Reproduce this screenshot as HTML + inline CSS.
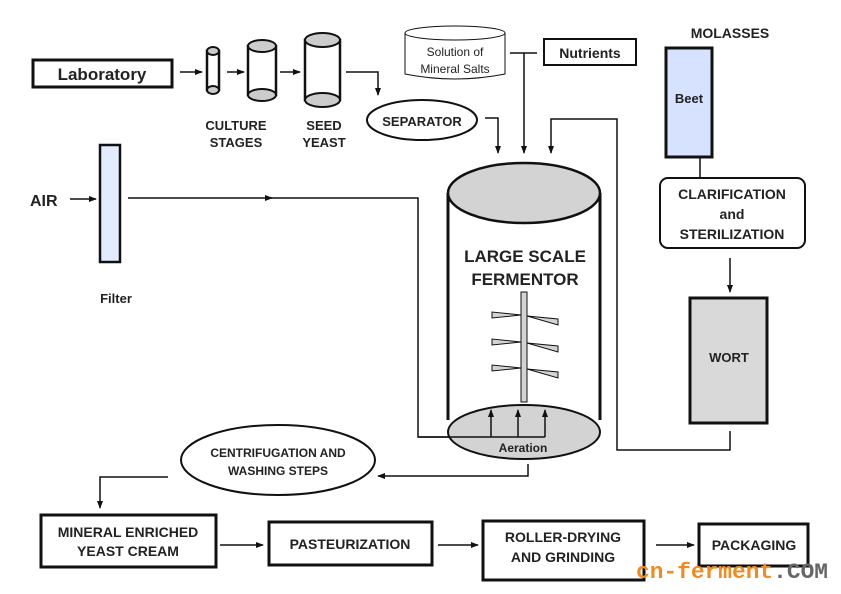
<!DOCTYPE html>
<html><head><meta charset="utf-8"><style>
html,body{margin:0;padding:0;background:#fff;}
svg{display:block;font-family:"Liberation Sans",Arial,sans-serif;}
text{font-weight:bold;fill:#222;}
</style></head><body>
<svg width="841" height="594" viewBox="0 0 841 594" xmlns="http://www.w3.org/2000/svg">
<defs>
<marker id="a" markerWidth="8" markerHeight="8" refX="7" refY="4" orient="auto" markerUnits="userSpaceOnUse"><path d="M0,1 L8,4 L0,7 z" fill="#111"/></marker>
</defs>
<g stroke="#111" fill="none" stroke-width="1.5">
<rect x="33" y="60" width="139" height="27" stroke-width="3"/>
<line x1="180" y1="72" x2="202" y2="72" marker-end="url(#a)"/>
<rect x="207" y="51" width="12" height="39" stroke-width="2.5" fill="#fff"/>
<ellipse cx="213" cy="51" rx="6" ry="4" fill="#ccc" stroke-width="2"/>
<ellipse cx="213" cy="90" rx="6" ry="4" fill="#ccc" stroke-width="2"/>
<line x1="227" y1="72" x2="244" y2="72" marker-end="url(#a)"/>
<rect x="248" y="46" width="28" height="49" stroke-width="2.5" fill="#fff"/>
<ellipse cx="262" cy="46" rx="14" ry="6" fill="#ccc" stroke-width="2"/>
<ellipse cx="262" cy="95" rx="14" ry="6" fill="#ccc" stroke-width="2"/>
<line x1="280" y1="72" x2="300" y2="72" marker-end="url(#a)"/>
<rect x="305" y="40" width="35" height="60" stroke-width="2.5" fill="#fff"/>
<ellipse cx="322.5" cy="40" rx="17.5" ry="7" fill="#ccc" stroke-width="2"/>
<ellipse cx="322.5" cy="100" rx="17.5" ry="7" fill="#ccc" stroke-width="2"/>
<polyline points="346,72 378,72 378,95" marker-end="url(#a)"/>
<ellipse cx="422" cy="120" rx="55" ry="20" stroke-width="2"/>
<path d="M405,33 L405,74 Q455,84 505,74 L505,33" stroke-width="1"/>
<ellipse cx="455" cy="33" rx="50" ry="7" stroke-width="1" fill="#fff"/>
<rect x="544" y="39" width="92" height="26" stroke-width="2"/>
<line x1="510" y1="53" x2="537" y2="53"/>
<line x1="524" y1="53" x2="524" y2="153" marker-end="url(#a)"/>
<polyline points="485,118 498,118 498,153" marker-end="url(#a)"/>
<polyline points="730,431 730,450 617,450 617,119 551,119 551,153" marker-end="url(#a)"/>
<line x1="70" y1="199" x2="96" y2="199" marker-end="url(#a)"/>
<rect x="100" y="145" width="20" height="117" fill="#e3ecff" stroke-width="2.5"/>
<line x1="128" y1="198" x2="272" y2="198" marker-end="url(#a)"/>
<polyline points="270,198 418,198 418,437 545,437"/>
<path d="M448,193 L448,420 M600,193 L600,420" stroke-width="3"/>
<ellipse cx="524" cy="193" rx="76" ry="30" fill="#d3d3d3" stroke-width="2.5"/>
<ellipse cx="524" cy="432" rx="76" ry="27" fill="#d3d3d3" stroke-width="2"/>
<polyline points="418,437 545,437" stroke-width="1.5"/>
<line x1="491" y1="437" x2="491" y2="410" marker-end="url(#a)"/>
<line x1="518" y1="437" x2="518" y2="410" marker-end="url(#a)"/>
<line x1="545" y1="437" x2="545" y2="410" marker-end="url(#a)"/>
<rect x="521" y="292" width="6" height="110" fill="#d3d3d3" stroke-width="1"/>
<g fill="#d3d3d3" stroke-width="1">
<path d="M492,312 L492,318 L521,315 z"/><path d="M527,316 L558,319 L558,325 z"/>
<path d="M492,339 L492,345 L521,342 z"/><path d="M527,343 L558,346 L558,352 z"/>
<path d="M492,365 L492,371 L521,368 z"/><path d="M527,369 L558,372 L558,378 z"/>
</g>
<rect x="666" y="48" width="46" height="109" fill="#d6e2ff" stroke-width="3"/>
<line x1="700" y1="157" x2="700" y2="178"/>
<rect x="660" y="178" width="145" height="70" rx="8" stroke-width="2"/>
<line x1="730" y1="258" x2="730" y2="292" marker-end="url(#a)"/>
<rect x="690" y="298" width="77" height="125" fill="#d9d9d9" stroke-width="3"/>
<ellipse cx="278" cy="460" rx="97" ry="35" stroke-width="2"/>
<polyline points="528,464 528,476 378,476" marker-end="url(#a)"/>
<polyline points="168,477 100,477 100,508" marker-end="url(#a)"/>
<rect x="41" y="515" width="175" height="52" stroke-width="3"/>
<line x1="220" y1="545" x2="263" y2="545" marker-end="url(#a)"/>
<rect x="269" y="522" width="163" height="43" stroke-width="3"/>
<line x1="438" y1="545" x2="478" y2="545" marker-end="url(#a)"/>
<rect x="483" y="521" width="161" height="59" stroke-width="3"/>
<line x1="656" y1="545" x2="694" y2="545" marker-end="url(#a)"/>
<rect x="699" y="524" width="109" height="42" stroke-width="3"/>
</g>
<text x="102" y="80" font-size="17" text-anchor="middle">Laboratory</text>
<text x="236" y="130" font-size="13" text-anchor="middle">CULTURE</text>
<text x="236" y="147" font-size="13" text-anchor="middle">STAGES</text>
<text x="324" y="130" font-size="13" text-anchor="middle">SEED</text>
<text x="324" y="147" font-size="13" text-anchor="middle">YEAST</text>
<text x="422" y="126" font-size="13" text-anchor="middle">SEPARATOR</text>
<text x="455" y="56" font-size="12" text-anchor="middle" style="font-weight:normal">Solution of</text>
<text x="455" y="73" font-size="12" text-anchor="middle" style="font-weight:normal">Mineral Salts</text>
<text x="590" y="58" font-size="14" text-anchor="middle">Nutrients</text>
<text x="730" y="38" font-size="14" text-anchor="middle">MOLASSES</text>
<text x="689" y="103" font-size="13" text-anchor="middle">Beet</text>
<text x="732" y="199" font-size="14" text-anchor="middle">CLARIFICATION</text>
<text x="732" y="219" font-size="14" text-anchor="middle">and</text>
<text x="732" y="239" font-size="14" text-anchor="middle">STERILIZATION</text>
<text x="729" y="362" font-size="13" text-anchor="middle">WORT</text>
<text x="30" y="206" font-size="16">AIR</text>
<text x="116" y="303" font-size="13" text-anchor="middle">Filter</text>
<text x="525" y="262" font-size="17" text-anchor="middle">LARGE SCALE</text>
<text x="525" y="285" font-size="17" text-anchor="middle">FERMENTOR</text>
<text x="523" y="452" font-size="12" text-anchor="middle">Aeration</text>
<text x="278" y="457" font-size="12" text-anchor="middle">CENTRIFUGATION AND</text>
<text x="278" y="475" font-size="12" text-anchor="middle">WASHING STEPS</text>
<text x="128" y="537" font-size="14" text-anchor="middle">MINERAL ENRICHED</text>
<text x="128" y="556" font-size="14" text-anchor="middle">YEAST CREAM</text>
<text x="350" y="549" font-size="14" text-anchor="middle">PASTEURIZATION</text>
<text x="563" y="542" font-size="14" text-anchor="middle">ROLLER-DRYING</text>
<text x="563" y="562" font-size="14" text-anchor="middle">AND GRINDING</text>
<text x="754" y="550" font-size="14" text-anchor="middle">PACKAGING</text>
<text x="636" y="578" font-size="22" style="font-family:'Liberation Mono',monospace" textLength="192" lengthAdjust="spacingAndGlyphs"><tspan style="fill:#f28a1e">cn-ferment</tspan><tspan style="fill:#666">.COM</tspan></text>
</svg>
</body></html>
